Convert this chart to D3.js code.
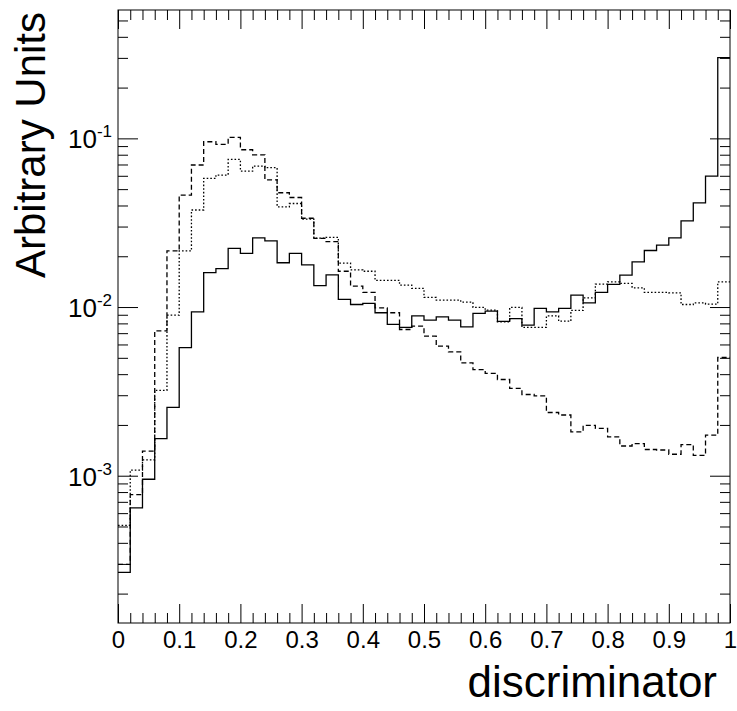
<!DOCTYPE html>
<head>
	<meta charset="utf-8" />
	<style>
		body {
			margin: 0;
			background-color: #fff;
			font-family: 'Liberation Sans', Arial, Helvetica, sans-serif;
		}
		.tick line {
			stroke: #000;
			stroke-width: 1;
		}
	</style>
</head>

<body>
	<div id="chart-area"></div>

	<script src="https://cdnjs.cloudflare.com/ajax/libs/d3/7.8.5/d3.min.js"></script>

	<script>
		// 50 bins of width 0.02 over [0, 1]
		const nBins = 50;
		const xTickLabels = ['0', '0.1', '0.2', '0.3', '0.4', '0.5', '0.6', '0.7', '0.8', '0.9', '1'];
		const yMajorTicks = [1e-3, 1e-2, 1e-1];
		const yTickExponents = ['-3', '-2', '-1'];

		// solid histogram
		const solid = [
			2.67e-4, 6.44e-4, 9.53e-4, 1.66e-3, 2.54e-3, 5.75e-3, 9.37e-3, 0.0160, 0.0169, 0.0223,
			0.0208, 0.0257, 0.0247, 0.0183, 0.0208, 0.0178, 0.0134, 0.0155, 0.0111, 0.01035,
			0.0105, 0.00925, 0.00789, 0.00757, 0.00887, 0.00836, 0.00875, 0.00836, 0.00763, 0.00917,
			0.00946, 0.00822, 0.00853, 0.00782, 0.00982, 0.00937, 0.00982, 0.01178, 0.01059, 0.01222,
			0.01362, 0.01546, 0.01854, 0.02163, 0.02329, 0.0257, 0.0324, 0.0415, 0.0597, 0.301
		];

		// dashed histogram
		const dashed = [
			2.98e-4, 7.72e-4, 1.40e-3, 7.23e-3, 0.0215, 0.0461, 0.0695, 0.0955, 0.0921, 0.1014,
			0.0856, 0.0799, 0.0567, 0.0476, 0.0446, 0.0336, 0.0255, 0.0244, 0.0163, 0.0133,
			0.0122, 0.00989, 0.00925, 0.00736, 0.00771, 0.00672, 0.00586, 0.00542, 0.00467, 0.00426,
			0.00404, 0.00372, 0.00329, 0.00303, 0.00297, 0.00237, 0.00229, 0.00182, 0.00199, 0.00191,
			0.00170, 0.00150, 0.00155, 0.00143, 0.00142, 0.00134, 0.00153, 0.00132, 0.00174, 0.00502
		];

		// dotted histogram
		const dotted = [
			5.08e-4, 1.08e-3, 1.24e-3, 3.21e-3, 8.95e-3, 0.0215, 0.0376, 0.0579, 0.0606, 0.0750,
			0.0640, 0.0685, 0.0670, 0.0393, 0.0411, 0.0332, 0.0256, 0.0259, 0.0182, 0.0166,
			0.0163, 0.0144, 0.0144, 0.0135, 0.0129, 0.0114, 0.0110, 0.0110, 0.0107, 0.00995,
			0.00959, 0.00817, 0.00995, 0.00757, 0.00757, 0.00887, 0.00824, 0.00955, 0.01134, 0.01367,
			0.01410, 0.01380, 0.01300, 0.01222, 0.01222, 0.01214, 0.01035, 0.01059, 0.01040, 0.01410
		];

		const W = 737, H = 711;
		const frame = { left: 118, right: 730, top: 10, bottom: 623 };

		const svg = d3.select('#chart-area')
			.append('svg')
			.attr('width', W)
			.attr('height', H);

		const x = d3.scaleLinear().domain([0, 1]).range([frame.left, frame.right]);
		const y = d3.scaleLog().domain([1.339e-4, 0.5768]).range([frame.bottom, frame.top]);

		const xMajor = d3.range(0, 11).map(i => i / 10);
		const xMinor = d3.range(0, 51).map(i => i / 50).filter((d, i) => i % 5 !== 0);

		// log minor ticks 2..9 x 10^n inside the domain
		const yMinor = [];
		[-4, -3, -2, -1].forEach(e => {
			for (let k = 2; k <= 9; k++) {
				const v = k * Math.pow(10, e);
				if (v > y.domain()[0] && v < y.domain()[1]) yMinor.push(v);
			}
		});

		function clean(g) {
			g.select('.domain').remove();
			g.style('font-family', null).style('font-size', null);
		}

		// bottom axis
		svg.append('g')
			.attr('transform', `translate(0,${frame.bottom})`)
			.call(d3.axisBottom(x).tickValues(xMajor).tickSize(-19).tickPadding(8)
				.tickFormat((d, i) => xTickLabels[i]))
			.call(clean)
			.selectAll('text')
			.style('font-size', '24px')
			.attr('fill', '#000');
		svg.append('g')
			.attr('transform', `translate(0,${frame.bottom})`)
			.call(d3.axisBottom(x).tickValues(xMinor).tickSize(-10).tickFormat(''))
			.call(clean);

		// top axis
		svg.append('g')
			.attr('transform', `translate(0,${frame.top})`)
			.call(d3.axisTop(x).tickValues(xMajor).tickSize(-19).tickFormat(''))
			.call(clean);
		svg.append('g')
			.attr('transform', `translate(0,${frame.top})`)
			.call(d3.axisTop(x).tickValues(xMinor).tickSize(-10).tickFormat(''))
			.call(clean);

		// left axis
		svg.append('g')
			.attr('transform', `translate(${frame.left},0)`)
			.call(d3.axisLeft(y).tickValues(yMajorTicks).tickSize(-20).tickFormat(''))
			.call(clean);
		svg.append('g')
			.attr('transform', `translate(${frame.left},0)`)
			.call(d3.axisLeft(y).tickValues(yMinor).tickSize(-10).tickFormat(''))
			.call(clean);

		// right axis
		svg.append('g')
			.attr('transform', `translate(${frame.right},0)`)
			.call(d3.axisRight(y).tickValues(yMajorTicks).tickSize(-20).tickFormat(''))
			.call(clean);
		svg.append('g')
			.attr('transform', `translate(${frame.right},0)`)
			.call(d3.axisRight(y).tickValues(yMinor).tickSize(-10).tickFormat(''))
			.call(clean);

		// y labels 10^n
		const yl = svg.append('g')
			.selectAll('text')
			.data(yMajorTicks)
			.join('text')
			.attr('x', frame.left - 6)
			.attr('y', d => y(d) + 10)
			.attr('text-anchor', 'end')
			.style('font-size', '26px');
		yl.append('tspan').text('10');
		yl.append('tspan')
			.attr('dy', -11)
			.style('font-size', '17px')
			.text((d, i) => yTickExponents[i]);

		// histograms as steps
		const edges = d3.range(0, nBins + 1).map(i => i / nBins);
		function stepPath(vals) {
			const pts = [];
			vals.forEach((v, i) => {
				pts.push([x(edges[i]), y(v)]);
				pts.push([x(edges[i + 1]), y(v)]);
			});
			return d3.line()(pts);
		}

		const series = [
			{ vals: dashed, dash: '5,3' },
			{ vals: dotted, dash: '1.6,2' },
			{ vals: solid, dash: null }
		];

		svg.append('g')
			.selectAll('path')
			.data(series)
			.join('path')
			.attr('d', d => stepPath(d.vals))
			.attr('fill', 'none')
			.attr('stroke', '#000')
			.attr('stroke-width', 1.3)
			.attr('stroke-dasharray', d => d.dash);

		// frame
		svg.append('rect')
			.attr('x', frame.left)
			.attr('y', frame.top)
			.attr('width', frame.right - frame.left)
			.attr('height', frame.bottom - frame.top)
			.attr('fill', 'none')
			.attr('stroke', '#000')
			.attr('stroke-width', 1);

		// axis titles
		svg.append('text')
			.attr('x', 717)
			.attr('y', 697)
			.attr('text-anchor', 'end')
			.style('font-size', '44px')
			.text('discriminator');

		svg.append('text')
			.attr('transform', 'translate(45,12) rotate(-90)')
			.attr('text-anchor', 'end')
			.style('font-size', '42px')
			.text('Arbitrary Units');
	</script>
</body>
